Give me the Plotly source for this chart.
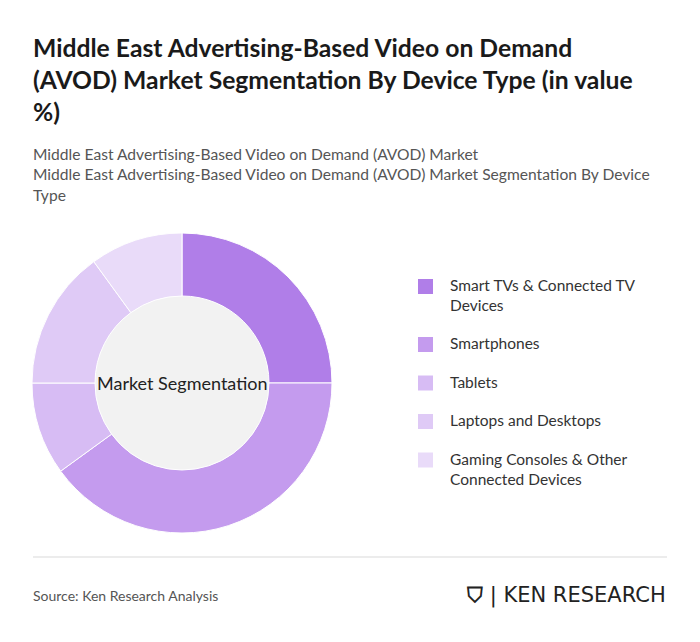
import plotly.graph_objects as go

segments = ["Smart TVs & Connected TV<br>Devices", "Smartphones", "Tablets",
            "Laptops and Desktops", "Gaming Consoles & Other<br>Connected Devices"]
shares = [25, 40, 10, 15, 10]
colors = ["#b07ee8", "#c49bee", "#d7bcf4", "#dfcaf6", "#e9dbf9"]

W, H = 700, 642
OX, OY = 8, 8  # page body margin


def px(p):
    return (p - OX) / W


def py(p):  # pixel from top -> paper y
    return 1 - (p - OY) / H


fig = go.Figure()
fig.add_trace(go.Pie(
    labels=[s.replace("<br>", " ") for s in segments], values=shares, sort=False,
    direction="clockwise", rotation=0,
    hole=0.58, textinfo="none", hoverinfo="label+percent", showlegend=False,
    marker=dict(colors=colors, line=dict(color="white", width=1)),
    domain=dict(x=[px(32), px(332)], y=[py(533), py(233)]),
))

fig.add_shape(type="circle", xref="paper", yref="paper", layer="below",
              x0=px(95), x1=px(269), y0=py(470), y1=py(296),
              fillcolor="#f2f2f2", line_width=0)
fig.add_shape(type="line", xref="paper", yref="paper",
              x0=px(33), x1=px(667), y0=py(557), y1=py(557),
              line=dict(color="#d9d9d9", width=1))

# legend drawn by hand for the wider row spacing
y = 274
for name, col in zip(segments, colors):
    lines = name.count("<br>") + 1
    fig.add_shape(type="rect", xref="paper", yref="paper",
                  x0=px(418), x1=px(433), y0=py(y + 20), y1=py(y + 5),
                  fillcolor=col, line_width=0)
    fig.add_annotation(text=name, x=px(448), y=py(y), xref="paper", yref="paper",
                       xanchor="left", yanchor="top", align="left", showarrow=False,
                       font=dict(size=15.5, color="#333"))
    y += 19.5 * lines + 19

fig.add_annotation(text="Market Segmentation", x=px(182), y=py(383), xref="paper", yref="paper",
                   xanchor="center", showarrow=False, font=dict(size=18, color="#222"))
fig.add_annotation(
    text="<b>Middle East Advertising-Based Video on Demand<br>(AVOD) Market Segmentation By Device Type (in value<br>%)</b>",
    x=px(31), y=py(31), xref="paper", yref="paper", xanchor="left", yanchor="top",
    align="left", showarrow=False, font=dict(size=24.7, color="#1a1a1a"))
fig.add_annotation(
    text="Middle East Advertising-Based Video on Demand (AVOD) Market<br>Middle East Advertising-Based Video on Demand (AVOD) Market Segmentation By Device<br>Type",
    x=px(31), y=py(143), xref="paper", yref="paper", xanchor="left", yanchor="top",
    align="left", showarrow=False, font=dict(size=15.6, color="#555"))
fig.add_annotation(text="Source: Ken Research Analysis", x=px(31), y=py(606), xref="paper", yref="paper",
                   xanchor="left", showarrow=False, font=dict(size=14, color="#555"))
fig.add_annotation(text="<b>⛉</b> | KEN RESEARCH", x=px(668), y=py(610), xref="paper", yref="paper",
                   xanchor="right", showarrow=False,
                   font=dict(size=21, color="#222", family="DejaVu Sans"))

fig.update_layout(
    width=W, height=H, margin=dict(l=0, r=0, t=0, b=0),
    paper_bgcolor="white", plot_bgcolor="white",
    font=dict(family="Lato, sans-serif"),
)

fig.write_html("out.html")
